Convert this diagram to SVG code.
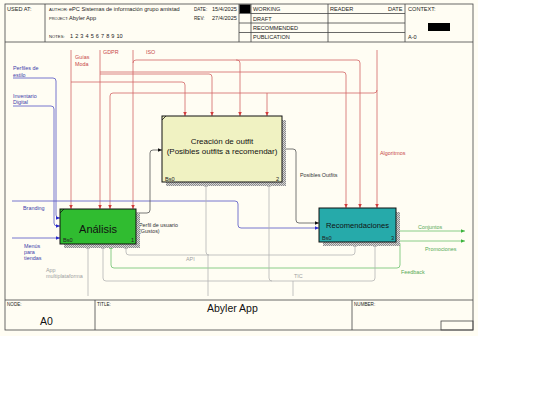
<svg xmlns="http://www.w3.org/2000/svg" width="540" height="405" viewBox="0 0 540 405">
<style>
text{font-family:"Liberation Sans",Arial,sans-serif;}
.hd{font-size:5.6px;fill:#222;}
.hl{font-size:4.2px;fill:#222;}
.sm{font-size:4.6px;fill:#222;}
.fr{fill:none;stroke:#444;stroke-width:0.8;}
.c{fill:none;stroke-width:0.8;}
.red{stroke:#D26464;}
.blue{stroke:#5454C4;}
.dark{stroke:#555;}
.grey{stroke:#B4B4B4;}
.green{stroke:#6CC06C;}
.lr{font-size:5.4px;fill:#C84848;}
.lb{font-size:5.4px;fill:#3C3CAA;}
.ld{font-size:5.4px;fill:#333;}
.lg{font-size:5.4px;fill:#A0A0A0;}
.lgr{font-size:5.4px;fill:#55AA55;}
.box{stroke:#111;stroke-width:1;}
.bs{font-size:5.6px;fill:#222;}
</style>
<defs>
<pattern id="hatch" width="2" height="2" patternUnits="userSpaceOnUse"><rect width="2" height="2" fill="#d6d6d6"/><rect width="1" height="1" fill="#8c8c8c"/><rect x="1" y="1" width="1" height="1" fill="#8c8c8c"/></pattern>
<marker id="aR" markerUnits="userSpaceOnUse" markerWidth="5" markerHeight="4" refX="4.5" refY="2" orient="auto"><path d="M0,0 L4.5,2 L0,4 z" fill="#D23C3C"/></marker>
<marker id="aB" markerUnits="userSpaceOnUse" markerWidth="5" markerHeight="4" refX="4.5" refY="2" orient="auto"><path d="M0,0 L4.5,2 L0,4 z" fill="#2A2ACC"/></marker>
<marker id="aK" markerUnits="userSpaceOnUse" markerWidth="5" markerHeight="4" refX="4.5" refY="2" orient="auto"><path d="M0,0 L4.5,2 L0,4 z" fill="#111"/></marker>
<marker id="aG" markerUnits="userSpaceOnUse" markerWidth="5" markerHeight="4" refX="4.5" refY="2" orient="auto"><path d="M0,0 L4.5,2 L0,4 z" fill="#999"/></marker>
<marker id="aN" markerUnits="userSpaceOnUse" markerWidth="5" markerHeight="4" refX="4.5" refY="2" orient="auto"><path d="M0,0 L4.5,2 L0,4 z" fill="#3CB43C"/></marker>
</defs>
<rect x="0" y="0" width="478" height="336" fill="#FFFDF3"/>
<g id="frame">
<rect class="fr" x="5" y="4" width="468" height="326"/>
<line class="fr" x1="5" y1="42" x2="473" y2="42"/>
<line class="fr" x1="45" y1="4" x2="45" y2="42"/>
<line class="fr" x1="239" y1="4" x2="239" y2="42"/>
<line class="fr" x1="251" y1="4" x2="251" y2="42"/>
<line class="fr" x1="328" y1="4" x2="328" y2="42"/>
<line class="fr" x1="405" y1="4" x2="405" y2="42"/>
<line class="fr" x1="239" y1="13.5" x2="405" y2="13.5"/>
<line class="fr" x1="239" y1="23" x2="405" y2="23"/>
<line class="fr" x1="239" y1="32.5" x2="405" y2="32.5"/>
<rect x="239.5" y="4.5" width="11" height="8.5" fill="#000"/>
<rect x="428" y="23" width="22" height="8" fill="#000"/>
<text class="hd" x="7" y="11">USED AT:</text>
<text class="hl" x="49" y="11">AUTHOR:</text>
<text class="hd" x="69" y="11">ePC Sistemas de información grupo amistad</text>
<text class="hl" x="49" y="19.5" style="font-size:4px">PROJECT:</text>
<text class="hd" x="69" y="19.5">Abyler App</text>
<text class="hl" x="49" y="38">NOTES:</text>
<text class="hd" x="70" y="38" word-spacing="0.5">1 2 3 4 5 6 7 8 9 10</text>
<text class="hl" x="194" y="11" style="font-size:4.6px">DATE:</text>
<text class="hd" x="212" y="11">15/4/2025</text>
<text class="hl" x="194" y="19.5" style="font-size:4.6px">REV:</text>
<text class="hd" x="212" y="19.5">27/4/2025</text>
<text class="hd" x="253" y="11">WORKING</text>
<text class="hd" x="253" y="20.5">DRAFT</text>
<text class="hd" x="253" y="29.5">RECOMMENDED</text>
<text class="hd" x="253" y="38.5">PUBLICATION</text>
<text class="hd" x="330" y="11">READER</text>
<text class="hd" x="388" y="11">DATE</text>
<text class="hd" x="408" y="11">CONTEXT:</text>
<text class="hd" x="408" y="38.5">A-0</text>
<line class="fr" x1="5" y1="300" x2="473" y2="300"/>
<line class="fr" x1="95" y1="300" x2="95" y2="330"/>
<line class="fr" x1="352" y1="300" x2="352" y2="330"/>
<rect class="fr" x="441" y="321" width="32" height="9"/>
<text class="sm" x="7" y="306">NODE:</text>
<text class="sm" x="97" y="306">TITLE:</text>
<text class="sm" x="354" y="306">NUMBER:</text>
<text x="40" y="324.5" font-size="10.5" fill="#111">A0</text>
<text x="207" y="312" font-size="10.5" fill="#111">Abyler App</text>
</g>
<g id="connectors">
<path class="c red" d="M71,50 V209" marker-end="url(#aR)"/>
<path class="c red" d="M71,82 H182 Q185,82 185,85 V116" marker-end="url(#aR)"/>
<path class="c red" d="M100,50 V209" marker-end="url(#aR)"/>
<path class="c red" d="M100,74 H209 Q212,74 212,77 V116" marker-end="url(#aR)"/>
<path class="c red" d="M100,72 H343 Q346,72 346,75 V208" marker-end="url(#aR)"/>
<path class="c red" d="M133,50 V209" marker-end="url(#aR)"/>
<path class="c red" d="M133,63 Q133,60 136,60 H237 Q240,60 240,63 V116" marker-end="url(#aR)"/>
<path class="c red" d="M236,60 H357 Q360,60 360,63 V208" marker-end="url(#aR)"/>
<path class="c red" d="M377,50 V208" marker-end="url(#aR)"/>
<path class="c red" d="M377,90 Q377,93 374,93 H113 Q110,93 110,96 V209" marker-end="url(#aR)"/>
<path class="c red" d="M267,93 V116" marker-end="url(#aR)"/>
<path class="c blue" d="M13,78 H53 Q56,78 56,81 V215 Q56,218 59,218 H60" marker-end="url(#aB)"/>
<path class="c blue" d="M13,106 H51 Q54,106 54,109 V223 Q54,226 57,226 H60" marker-end="url(#aB)"/>
<path class="c blue" d="M12,201 H235 Q238,201 238,204 V225 Q238,228 241,228 H319" marker-end="url(#aB)"/>
<path class="c blue" d="M12,238 H60" marker-end="url(#aB)"/>
<path class="c dark" d="M136,213 H147 Q150,213 150,210 V153 Q150,150 153,150 H162" marker-end="url(#aK)"/>
<path class="c dark" d="M282,149 H293 Q296,149 296,152 V220 Q296,223 299,223 H319" marker-end="url(#aK)"/>
<path class="c green" d="M396,231 H465" marker-end="url(#aN)"/>
<path class="c green" d="M396,241 H465" marker-end="url(#aN)"/>
<path class="c green" d="M397,241 Q400,241 400,244 V265 Q400,268 397,268 H114 Q111,268 111,265 V244" marker-end="url(#aN)"/>
<path class="c grey" d="M88,296 V244" marker-end="url(#aG)"/>
<path class="c grey" d="M208,296 V255"/>
<path class="c grey" d="M208,255 H129 Q126,255 126,252 V244" marker-end="url(#aG)"/>
<path class="c grey" d="M208,255 H352 Q355,255 355,252 V242" marker-end="url(#aG)"/>
<path class="c grey" d="M209,255 Q206,255 206,252 V182" marker-end="url(#aG)"/>
<path class="c grey" d="M293,296 V281"/>
<path class="c grey" d="M293,281 H106 Q103,281 103,278 V244" marker-end="url(#aG)"/>
<path class="c grey" d="M272,281 Q269,281 269,278 V182" marker-end="url(#aG)"/>
<path class="c grey" d="M293,281 H372 Q375,281 375,278 V242" marker-end="url(#aG)"/>
<text class="lr" x="75" y="59">Guías</text>
<text class="lr" x="75" y="66">Moda</text>
<text class="lr" x="103" y="53.5">GDPR</text>
<text class="lr" x="146" y="53.5">ISO</text>
<text class="lr" x="380" y="154.5">Algoritmos</text>
<text class="lb" x="13" y="70">Perfiles de</text>
<text class="lb" x="13" y="76.5">estilo</text>
<text class="lb" x="13" y="97.5">Inventario</text>
<text class="lb" x="13" y="104">Digital</text>
<text class="lb" x="23" y="209.5">Branding</text>
<text class="lb" x="24" y="247.5">Menús</text>
<text class="lb" x="24" y="253.5">para</text>
<text class="lb" x="24" y="259.5">tiendas</text>
<text class="ld" x="139" y="226.5">Perfil de usuario</text>
<text class="ld" x="139" y="232.5">(Gustos)</text>
<text class="ld" x="300" y="177">Posibles Outfits</text>
<text class="lgr" x="418" y="228.5">Conjuntos</text>
<text class="lgr" x="425" y="251">Promociones</text>
<text class="lgr" x="401" y="274">Feedback</text>
<text class="lg" x="46" y="272">App</text>
<text class="lg" x="46" y="278">multiplataforma</text>
<text class="lg" x="186" y="261">API</text>
<text class="lg" x="294" y="277.5">TIC</text>
</g>
<g id="node-creacion">
<rect x="166" y="120" width="120" height="66" fill="url(#hatch)"/>
<rect class="box" x="162" y="116" width="120" height="66" fill="#F0F2C2"/>
<path d="M162,120 L166,116" stroke="#111" stroke-width="0.8"/>
<text x="222" y="144" font-size="8" text-anchor="middle" fill="#111">Creación de outfit</text>
<text x="222" y="153.5" font-size="8" text-anchor="middle" fill="#111">(Posibles outfits a recomendar)</text>
<text class="bs" x="165" y="180.5">Bs0</text>
<text class="bs" x="276" y="180.5">2</text>
</g>
<g id="node-analisis">
<rect x="64" y="213" width="76" height="35" fill="url(#hatch)"/>
<rect class="box" x="60" y="209" width="76" height="35" fill="#30BC30"/>
<path d="M60,213 L64,209" stroke="#111" stroke-width="0.8"/>
<text x="98" y="233" font-size="11" text-anchor="middle" fill="#111">Análisis</text>
<text class="bs" x="63" y="242">Bs0</text>
<text class="bs" x="131" y="242">1</text>
</g>
<g id="node-recomendaciones">
<rect x="323" y="212" width="77" height="34" fill="url(#hatch)"/>
<rect class="box" x="319" y="208" width="77" height="34" fill="#26AAAA"/>
<text x="357.5" y="228" font-size="7.6" text-anchor="middle" fill="#111">Recomendaciones</text>
<text class="bs" x="322" y="240">Bs0</text>
<text class="bs" x="391" y="240">3</text>
</g>
</svg>
